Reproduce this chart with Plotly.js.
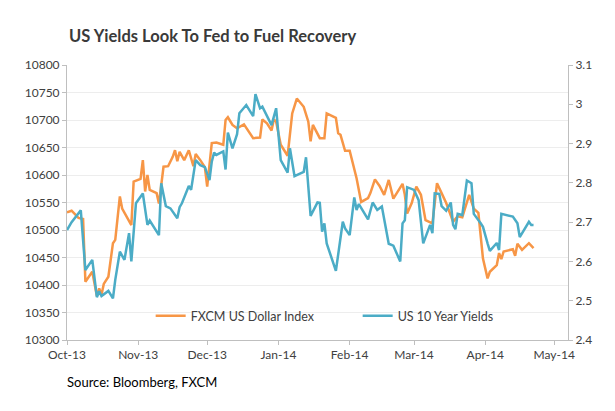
<!DOCTYPE html>
<html>
<head>
<meta charset="utf-8">
<script src="https://cdn.plot.ly/plotly-3.0.1.min.js"></script>
<style>html,body{margin:0;padding:0;background:#fff;}#chart{width:615px;height:411px;}</style>
</head>
<body>
<div id="chart"></div>
<script>
// FXCM US Dollar Index (left axis)
var usdDates = ["2013-10-01","2013-10-03","2013-10-06","2013-10-08","2013-10-09","2013-10-12","2013-10-14","2013-10-15","2013-10-16","2013-10-17","2013-10-19","2013-10-21","2013-10-22","2013-10-24","2013-10-25","2013-10-27","2013-10-29","2013-10-30","2013-11-02","2013-11-03","2013-11-04","2013-11-05","2013-11-06","2013-11-09","2013-11-10","2013-11-12","2013-11-14","2013-11-16","2013-11-17","2013-11-18","2013-11-19","2013-11-21","2013-11-23","2013-11-25","2013-11-26","2013-11-28","2013-11-30","2013-12-01","2013-12-03","2013-12-05","2013-12-08","2013-12-09","2013-12-10","2013-12-12","2013-12-14","2013-12-17","2013-12-19","2013-12-21","2013-12-24","2013-12-25","2013-12-27","2013-12-29","2013-12-30","2013-12-31","2014-01-02","2014-01-05","2014-01-07","2014-01-09","2014-01-12","2014-01-14","2014-01-15","2014-01-16","2014-01-19","2014-01-21","2014-01-22","2014-01-26","2014-01-27","2014-01-28","2014-01-30","2014-02-01","2014-02-04","2014-02-06","2014-02-09","2014-02-10","2014-02-12","2014-02-14","2014-02-16","2014-02-18","2014-02-20","2014-02-24","2014-02-25","2014-02-26","2014-02-28","2014-03-02","2014-03-04","2014-03-06","2014-03-09","2014-03-11","2014-03-13","2014-03-15","2014-03-18","2014-03-20","2014-03-22","2014-03-24","2014-03-25","2014-03-27","2014-03-29","2014-03-31","2014-04-02","2014-04-03","2014-04-06","2014-04-07","2014-04-08","2014-04-09","2014-04-13","2014-04-14","2014-04-15","2014-04-17","2014-04-20","2014-04-22"];
var usdValues = [10532,10535,10522,10520,10406,10424,10380,10394,10382,10402,10415,10476,10482,10561,10539,10524,10509,10588,10593,10627,10570,10600,10573,10567,10548,10615,10616,10633,10645,10625,10642,10627,10645,10616,10638,10627,10614,10579,10658,10659,10655,10700,10705,10691,10685,10692,10679,10667,10668,10701,10694,10681,10701,10697,10655,10635,10712,10739,10724,10697,10661,10691,10667,10667,10712,10704,10676,10673,10644,10644,10594,10551,10558,10567,10592,10580,10564,10591,10557,10584,10564,10530,10549,10579,10564,10518,10512,10585,10567,10549,10515,10525,10523,10549,10564,10539,10531,10448,10412,10424,10436,10458,10447,10461,10465,10453,10475,10464,10476,10467];

// US 10 Year Yields (right axis)
var yldDates = ["2013-10-01","2013-10-03","2013-10-07","2013-10-08","2013-10-09","2013-10-12","2013-10-14","2013-10-15","2013-10-16","2013-10-19","2013-10-21","2013-10-22","2013-10-24","2013-10-26","2013-10-28","2013-10-29","2013-10-31","2013-11-03","2013-11-05","2013-11-06","2013-11-10","2013-11-11","2013-11-13","2013-11-15","2013-11-18","2013-11-19","2013-11-20","2013-11-23","2013-11-24","2013-11-26","2013-11-28","2013-11-30","2013-12-02","2013-12-03","2013-12-04","2013-12-05","2013-12-08","2013-12-09","2013-12-10","2013-12-12","2013-12-14","2013-12-15","2013-12-18","2013-12-21","2013-12-22","2013-12-24","2013-12-25","2013-12-29","2013-12-31","2014-01-02","2014-01-05","2014-01-06","2014-01-08","2014-01-12","2014-01-13","2014-01-15","2014-01-18","2014-01-19","2014-01-20","2014-01-21","2014-01-22","2014-01-26","2014-01-29","2014-01-30","2014-02-01","2014-02-03","2014-02-04","2014-02-05","2014-02-09","2014-02-11","2014-02-13","2014-02-15","2014-02-18","2014-02-20","2014-02-23","2014-02-24","2014-02-25","2014-02-26","2014-03-01","2014-03-03","2014-03-05","2014-03-08","2014-03-09","2014-03-10","2014-03-12","2014-03-13","2014-03-15","2014-03-17","2014-03-18","2014-03-19","2014-03-20","2014-03-22","2014-03-24","2014-03-26","2014-03-27","2014-03-30","2014-03-31","2014-04-02","2014-04-03","2014-04-06","2014-04-07","2014-04-08","2014-04-13","2014-04-15","2014-04-16","2014-04-20","2014-04-21","2014-04-22"];
var yldValues = [2.68,2.70,2.73,2.663,2.578,2.604,2.509,2.524,2.512,2.525,2.506,2.553,2.625,2.604,2.672,2.60,2.748,2.773,2.693,2.704,2.667,2.799,2.741,2.735,2.71,2.738,2.748,2.792,2.782,2.858,2.845,2.84,2.807,2.854,2.877,2.871,2.88,2.834,2.928,2.888,2.924,2.977,2.998,2.97,3.026,2.99,2.994,2.947,2.99,2.858,2.826,2.888,2.817,2.828,2.865,2.716,2.75,2.749,2.676,2.697,2.646,2.576,2.701,2.684,2.667,2.763,2.731,2.746,2.707,2.75,2.731,2.74,2.645,2.64,2.60,2.697,2.705,2.789,2.782,2.756,2.646,2.693,2.672,2.773,2.772,2.741,2.729,2.75,2.693,2.682,2.721,2.718,2.806,2.799,2.721,2.697,2.688,2.646,2.627,2.647,2.629,2.721,2.714,2.697,2.662,2.701,2.693,2.693];

var seriesNames = ["FXCM US Dollar Index", "US 10 Year Yields"];
var titleText = "US Yields Look To Fed to Fuel Recovery";
var sourceText = "Source: Bloomberg, FXCM";

var FONT = "Lato, 'Open Sans', Arial, sans-serif";
var traces = [
  {x: usdDates, y: usdValues, name: seriesNames[0], type: "scatter", mode: "lines",
   line: {color: "#F79646", width: 2.5}, yaxis: "y"},
  {x: yldDates, y: yldValues, name: seriesNames[1], type: "scatter", mode: "lines",
   line: {color: "#4BACC6", width: 2.5}, yaxis: "y2"}
];

var layout = {
  width: 615, height: 411,
  margin: {l: 67, r: 47, t: 65, b: 71},
  paper_bgcolor: "#ffffff", plot_bgcolor: "#ffffff",
  font: {family: FONT, size: 12, color: "#404040"},
  title: {text: titleText, x: 0.004, xref: "paper", xanchor: "left", y: 0.912, yref: "container", yanchor: "middle",
          font: {family: FONT, size: 16.5, color: "#3a3a3a", weight: "bold"}},
  xaxis: {type: "date", range: ["2013-10-01", "2014-05-07"], tick0: "2013-10-01", dtick: "M1", tickformat: "%b-%y",
          showgrid: false, zeroline: false, showline: true, linecolor: "#BFBFBF", linewidth: 1,
          ticks: "outside", ticklen: 4, tickcolor: "#BFBFBF", tickfont: {size: 12, color: "#404040"}},
  yaxis: {range: [10300, 10800], dtick: 50, tickformat: "d", showgrid: true, gridcolor: "#EDEDED", zeroline: false,
          showline: true, linecolor: "#BFBFBF", ticks: "outside", ticklen: 4, tickcolor: "#BFBFBF",
          tickfont: {size: 12, color: "#404040"}},
  yaxis2: {range: [2.4, 3.1], dtick: 0.1, overlaying: "y", side: "right", showgrid: false, zeroline: false,
           showline: true, linecolor: "#BFBFBF", ticks: "outside", ticklen: 4, tickcolor: "#BFBFBF",
           tickfont: {size: 12, color: "#404040"}},
  showlegend: true,
  legend: {orientation: "h", x: 0.167, xanchor: "left", y: 0.087, yanchor: "middle", bgcolor: "rgba(0,0,0,0)",
           font: {size: 12.5, color: "#404040"}, entrywidth: 162, entrywidthmode: "pixels"},
  annotations: [{text: sourceText, xref: "paper", yref: "paper", x: -0.004, y: -0.153, xanchor: "left", yanchor: "middle",
                 showarrow: false, font: {family: FONT, size: 13, color: "#000000"}}]
};

Plotly.newPlot("chart", traces, layout, {displayModeBar: false, staticPlot: true});
</script>
</body>
</html>
